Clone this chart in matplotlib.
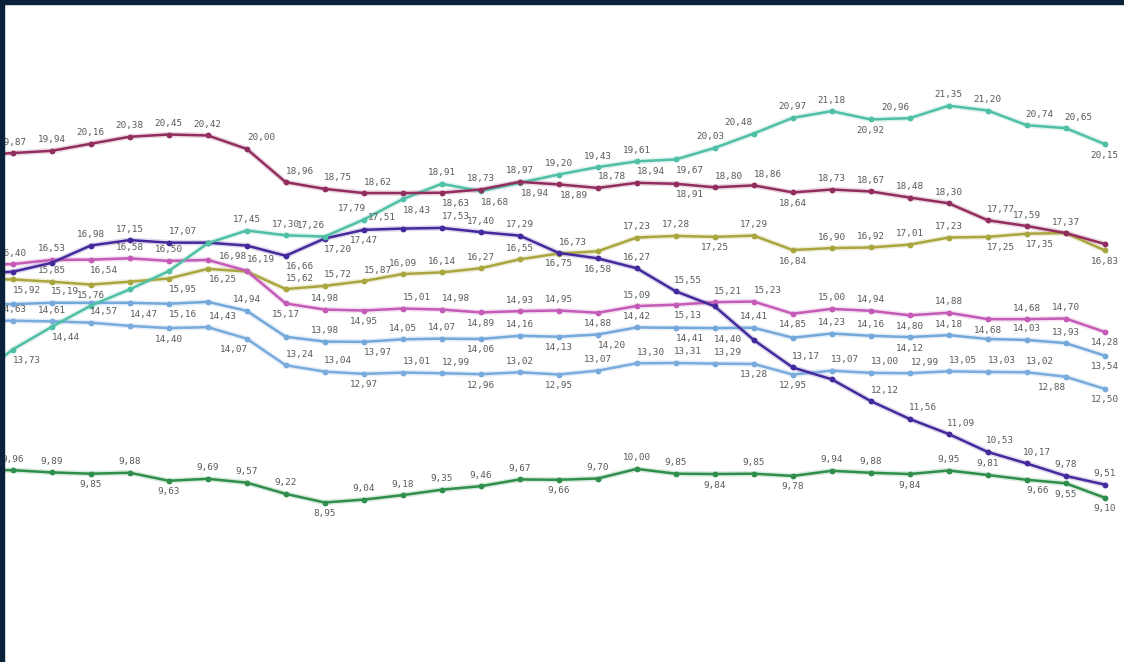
import numpy as np
import matplotlib
matplotlib.use("Agg")
import matplotlib.pyplot as plt
from matplotlib.patches import Rectangle

# ---- data (first value of each series is the point just off the left edge) ----
positions = list(range(-1, 29))

crimson = [19.80, 19.87, 19.94, 20.16, 20.38, 20.45, 20.42, 20.00, 18.96, 18.75, 18.62,
           18.62, 18.63, 18.73, 18.97, 18.89, 18.78, 18.94, 18.91, 18.80, 18.86,
           18.64, 18.73, 18.67, 18.48, 18.30, 17.77, 17.59, 17.37, 17.03]
teal = [12.80, 13.73, 14.44, 15.10, 15.61, 16.18, 17.05, 17.45, 17.30, 17.26, 17.79,
        18.43, 18.91, 18.68, 18.94, 19.20, 19.43, 19.61, 19.67, 20.03, 20.48,
        20.97, 21.18, 20.92, 20.96, 21.35, 21.20, 20.74, 20.65, 20.15]
purple = [16.10, 16.16, 16.44, 16.98, 17.15, 17.07, 17.07, 16.98, 16.66, 17.20, 17.47,
          17.51, 17.53, 17.40, 17.29, 16.75, 16.58, 16.27, 15.55, 15.08, 14.03,
          13.17, 12.80, 12.12, 11.56, 11.09, 10.53, 10.17, 9.78, 9.51]
pink = [16.38, 16.40, 16.53, 16.54, 16.58, 16.50, 16.53, 16.19, 15.17, 14.98, 14.95,
        15.01, 14.98, 14.89, 14.93, 14.95, 14.88, 15.09, 15.13, 15.21, 15.23,
        14.85, 15.00, 14.94, 14.80, 14.88, 14.68, 14.68, 14.70, 14.28]
olive = [15.93, 15.92, 15.85, 15.76, 15.85, 15.95, 16.25, 16.17, 15.62, 15.72, 15.87,
         16.09, 16.14, 16.27, 16.55, 16.73, 16.80, 17.23, 17.28, 17.25, 17.29,
         16.84, 16.90, 16.92, 17.01, 17.23, 17.25, 17.35, 17.37, 16.83]
blue_upper = [15.15, 15.15, 15.19, 15.19, 15.19, 15.16, 15.22, 14.94, 14.13, 13.98, 13.97,
              14.05, 14.07, 14.06, 14.16, 14.13, 14.20, 14.42, 14.41, 14.40, 14.41,
              14.10, 14.23, 14.16, 14.12, 14.18, 14.06, 14.03, 13.93, 13.54]
blue_lower = [14.63, 14.63, 14.61, 14.57, 14.47, 14.40, 14.43, 14.07, 13.24, 13.04, 12.97,
              13.01, 12.99, 12.96, 13.02, 12.95, 13.07, 13.30, 13.31, 13.29, 13.28,
              12.95, 13.07, 13.00, 12.99, 13.05, 13.03, 13.02, 12.88, 12.50]
green = [9.97, 9.96, 9.89, 9.85, 9.88, 9.63, 9.69, 9.57, 9.22, 8.95, 9.04,
         9.18, 9.35, 9.46, 9.67, 9.66, 9.70, 10.00, 9.85, 9.84, 9.85,
         9.78, 9.94, 9.88, 9.84, 9.95, 9.81, 9.66, 9.55, 9.10]

# ---- label placement (style): code per point, 'a' above, 'b' below, '-' hidden;
#      optional horizontal pixel shift appended, e.g. 'a+14'
place = {
    "crimson": ["-", "a", "a", "a", "a", "a", "a", "a+15", "a+14", "a+13", "a+14",
                "-", "b+14", "a", "a", "b+15", "a+14", "a+14", "b+14", "a+14", "a+14",
                "b", "a", "a", "a", "a", "a+13", "a", "a", "-"],
    "teal": ["-", "b+14", "b+14", "-", "-", "-", "-", "a", "a", "a-14", "a-12",
             "b+14", "a", "b+14", "b+15", "a", "a", "a", "b+14", "a-4", "a-15",
             "a", "a", "b", "a-14", "a", "a", "a+13", "a+13", "b"],
    "purple": ["-", "-", "-", "a", "a", "a+14", "-", "b-14", "b+14", "b+13", "b",
               "a-21", "a+14", "a", "a", "b", "b", "a", "a+12", "-", "-",
               "a+13", "-", "a+14", "a+13", "a+12", "a+12", "a+10", "a", "a"],
    "pink": ["-", "a", "a", "b+13", "a", "a", "-", "a+14", "b", "a", "b",
             "a+14", "a+14", "b", "a", "a", "b", "a", "b+12", "a+13", "a+14",
             "b", "a", "a", "b", "a", "b", "a", "a", "b"],
    "olive": ["-", "b+14", "a", "b", "-", "b+14", "b+15", "-", "a+14", "a+13", "a+14",
              "a", "a", "a", "a", "a+14", "-", "a", "a", "b", "a",
              "b", "a", "a", "a", "a", "b+13", "b+13", "-", "b"],
    "blue_upper": ["-", "-", "a+13", "-", "-", "b+14", "-", "a", "-", "a", "b+14",
                   "a", "a", "b", "a", "b", "b+14", "a", "b+14", "b+13", "a",
                   "-", "a", "a", "b", "a", "-", "a", "a", "b"],
    "blue_lower": ["-", "a", "a", "a+13", "a+14", "b", "a+15", "b-13", "a+14", "a+13", "b",
                   "a+14", "a+14", "b", "a", "b", "a", "a+14", "a+12", "a+13", "b",
                   "b", "a+13", "a+14", "a+15", "a+14", "a+14", "a+13", "b-14", "b"],
    "green": ["-", "a", "a", "b", "a", "b", "a", "a", "a", "b", "a",
              "a", "a", "a", "a", "b", "a", "a", "a", "b", "a",
              "b", "a", "a", "b", "a", "a", "b+11", "b", "b"],
}

series = [
    ("green", green, "#2f8e4b"),
    ("blue_lower", blue_lower, "#79abdc"),
    ("blue_upper", blue_upper, "#74a8da"),
    ("olive", olive, "#aaa63f"),
    ("pink", pink, "#c35bb7"),
    ("purple", purple, "#43299b"),
    ("teal", teal, "#4fbfa5"),
    ("crimson", crimson, "#922d60"),
]

W, H = 1124, 662
fig = plt.figure(figsize=(W / 100, H / 100), dpi=100)
ax = fig.add_axes([0, 0, 1, 1])

# pixel mapping: index i -> x = 12.7 + 39*i ; value v -> y = 105.7 + 32*(21.35 - v)
x0, dxp = 12.7, 39.0
ax.set_xlim(-x0 / dxp, (W - x0) / dxp)
ax.set_ylim(21.35 - (H - 105.7) / 32.0, 21.35 + 105.7 / 32.0)
ax.axis("off")

for name, vals, col in series:
    ax.plot(positions, vals, color=col, lw=4.0, alpha=0.18, solid_capstyle="round", zorder=2)
    ax.plot(positions, vals, color=col, lw=1.8, marker="o", markersize=4.2,
            markeredgewidth=0, zorder=3)

for name, vals, col in series:
    for xi, v, code in zip(positions, vals, place[name]):
        if code == "-":
            continue
        shift = int(code[1:]) if len(code) > 1 else 0
        dy = 11 if code[0] == "a" else -11
        ax.annotate(f"{v:.2f}".replace(".", ","), (xi, v), xytext=(shift, dy),
                    textcoords="offset pixels", ha="center", va="center",
                    fontsize=6.7, family="DejaVu Sans Mono", color="#5a5a5a",
                    zorder=5, annotation_clip=True)

# dark frame (top and left)
frame = "#0b2139"
fig.add_artist(Rectangle((0, 1 - 4 / H), 1, 4 / H, transform=fig.transFigure,
                         color=frame, zorder=10))
fig.add_artist(Rectangle((0, 0), 4 / W, 1, transform=fig.transFigure,
                         color=frame, zorder=10))

fig.savefig("out.png", dpi=100)
